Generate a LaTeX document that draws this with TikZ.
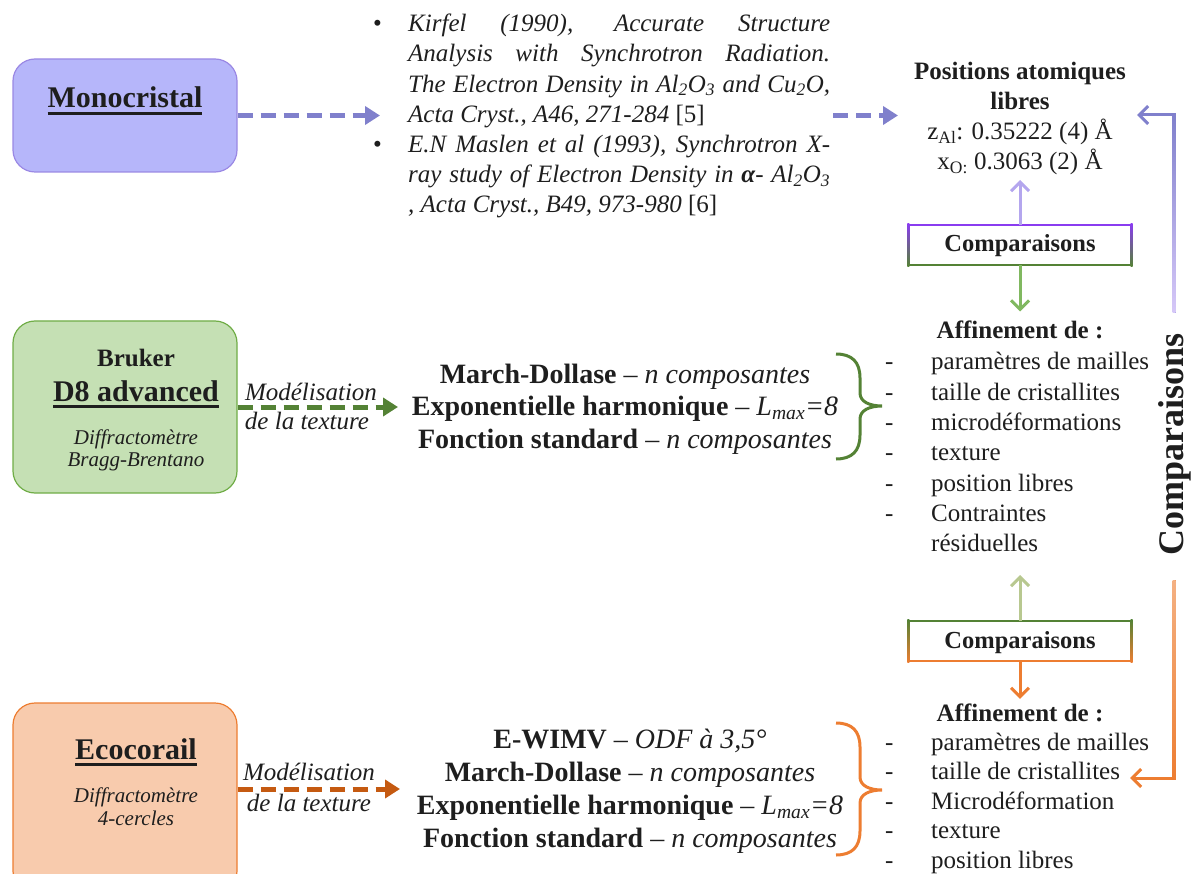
\documentclass[tikz,border=0pt]{standalone}
\usepackage{fontspec}
\setmainfont{Liberation Serif}
\usetikzlibrary{arrows.meta,calc}
\definecolor{ink}{HTML}{1E1E1E}
\definecolor{monofill}{HTML}{B6B6FA}
\definecolor{monoline}{HTML}{9A88E4}
\definecolor{monoarrow}{HTML}{8080CC}
\definecolor{grfill}{HTML}{C5E0B4}
\definecolor{grline}{HTML}{70AD47}
\definecolor{grdark}{HTML}{548235}
\definecolor{orfill}{HTML}{F8CBAD}
\definecolor{orline}{HTML}{ED7D31}
\definecolor{ordark}{HTML}{C55A11}
\definecolor{cpurple}{HTML}{8A3CF0}
\definecolor{lpurple}{HTML}{B4A6EE}
\definecolor{lgreen}{HTML}{80B860}
\definecolor{tgreen}{HTML}{B8C890}
\definecolor{vpurple}{HTML}{A49CDE}
\definecolor{vpurplelight}{HTML}{D6C8F8}
\definecolor{vorange}{HTML}{EF8E4E}
\definecolor{vorangelight}{HTML}{F4B183}
\def\setfs#1#2{\fontsize{#1}{#2}\selectfont}
\def\ulx#1{\setbox0=\hbox{#1}\rlap{\vrule width\wd0 height -3.6pt depth 6.6pt}\box0}
\def\jl#1{\makebox[422pt][s]{#1}}

\begin{document}
\begin{tikzpicture}[x=1pt,y=-1pt,
  every node/.style={text=ink, inner sep=0pt},
  instr/.style={rounded corners=22pt, line width=1.2pt, minimum width=224pt},
  dasharrow/.style={line width=5pt, dash pattern=on 15pt off 8pt, -{Triangle[length=15pt,width=18pt]}},
  solidarrow/.style={line width=3pt, -{Straight Barb[length=9pt,width=18pt,line width=3pt]}},
  compbox/.style={minimum width=223pt, minimum height=40pt, text height=17pt, text depth=3pt, font=\bfseries\setfs{24.5}{28}},
  brc/.style={line width=3pt},
  lbl/.style={anchor=base},
]
\useasboundingbox (0,0) rectangle (1196,874);
\clip (0,0) rectangle (1196,874);

% instrument boxes
\node[instr, fill=monofill, draw=monoline, minimum height=113pt] (mono) at (125,115.5) {};
\node[instr, fill=grfill, draw=grline, minimum height=172pt] (bruker) at (125,407) {};
\node[instr, fill=orfill, draw=orline, minimum height=190pt] (eco) at (125,798) {};

\node[lbl, font=\bfseries\setfs{30}{34}] (monot) at (125,108) {\ulx{Monocristal}};
\node[lbl, font=\bfseries\setfs{25}{30}] (brukt) at (136,366.7) {Bruker};
\node[lbl, font=\bfseries\setfs{30}{34}] (d8t) at (136,401.7) {\ulx{D8 advanced}};
\node[lbl, font=\itshape\setfs{21}{24}] (bbt1) at (136,444) {Diffractomètre};
\node[lbl, font=\itshape\setfs{21}{24}] (bbt2) at (136,466.7) {Bragg-Brentano};
\node[lbl, font=\bfseries\setfs{30}{34}] (ecot) at (136,759) {\ulx{Ecocorail}};
\node[lbl, font=\itshape\setfs{21}{24}] (ecot1) at (136,802.7) {Diffractomètre};
\node[lbl, font=\itshape\setfs{21}{24}] (ecot2) at (136,825) {4-cercles};

% references
\node[anchor=base, font=\setfs{25}{30}] (b1) at (377.5,31.7) {\textbullet};
\node[anchor=base, font=\setfs{25}{30}] (b2) at (377.5,152.5) {\textbullet};
\node[anchor=base west, font=\itshape\setfs{25}{30.2}] (refs) at (408,31.7) {\parbox[t]{422pt}{%
\jl{Kirfel (1990), Accurate Structure}\\
\jl{Analysis with Synchrotron Radiation.}\\
\jl{The Electron Density in Al\textsubscript{2}O\textsubscript{3} and Cu\textsubscript{2}O,}\\
Acta Cryst., A46, 271-284 \textup{[5]}\\
\jl{E.N Maslen et al (1993), Synchrotron X-}\\
\jl{ray study of Electron Density in {\bfseries α}- Al\textsubscript{2}O\textsubscript{3}}\\
, Acta Cryst., B49, 973-980 \textup{[6]}}};

\coordinate (refin) at (380,115.5);
\coordinate (refout) at (833,115.5);
\coordinate (posin) at (898,115.5);
\draw[dasharrow, monoarrow] (mono.east) -- (refin);
\draw[dasharrow, monoarrow] (refout) -- (posin);

% positions
\node[anchor=base, font=\setfs{25}{30.2}] (pos) at (1020,79.3) {\parbox[t]{240pt}{\centering
\textbf{Positions atomiques}\\\textbf{libres}\\
z\textsubscript{Al}: 0.35222 (4) Å\\
x\textsubscript{O:} 0.3063 (2) Å}};

% comparaisons boxes
\node[compbox] (comp1) at (1020,245) {Comparaisons};
\draw[line width=2pt, cpurple] (comp1.north west) -- (comp1.north east);
\draw[line width=2pt, grdark] (comp1.south west) -- (comp1.south east);
\shade[top color=cpurple, bottom color=grdark] ($(comp1.north west)+(-1,-1)$) rectangle ($(comp1.south west)+(1,1)$);
\shade[top color=cpurple, bottom color=grdark] ($(comp1.north east)+(-1,-1)$) rectangle ($(comp1.south east)+(1,1)$);

\node[compbox] (comp2) at (1020,641) {Comparaisons};
\draw[line width=2pt, grdark] (comp2.north west) -- (comp2.north east);
\draw[line width=2pt, orline] (comp2.south west) -- (comp2.south east);
\shade[top color=grdark, bottom color=orline] ($(comp2.north west)+(-1,-1)$) rectangle ($(comp2.south west)+(1,1)$);
\shade[top color=grdark, bottom color=orline] ($(comp2.north east)+(-1,-1)$) rectangle ($(comp2.south east)+(1,1)$);

% affinement 1
\node[lbl, font=\bfseries\setfs{25}{30}] (aff1t) at (1020,338.3) {Affinement de :};
\node[anchor=base west, font=\setfs{25}{30.3}] (aff1l) at (885,370) {\begin{tabular}[t]{@{}p{46pt}@{}l@{}}
-&paramètres de mailles\\
-&taille de cristallites\\
-&microdéformations\\
-&texture\\
-&position libres\\
-&Contraintes\\
&résiduelles
\end{tabular}};

% affinement 2
\node[lbl, font=\bfseries\setfs{25}{30}] (aff2t) at (1020,721.7) {Affinement de :};
\node[anchor=base west, font=\setfs{25}{29.6}] (aff2l) at (885,750) {\begin{tabular}[t]{@{}p{46pt}@{}l@{}}
-&paramètres de mailles\\
-&taille de cristallites\\
-&Microdéformation\\
-&texture\\
-&position libres
\end{tabular}};

\coordinate (posbot) at (1020,180);
\coordinate (aff1bot) at (1020,575);
\coordinate (posr) at (1137,115);
\coordinate (pvb) at (1174,313);
\coordinate (ovt) at (1174,580);
\coordinate (aff2r) at (1130,778);

\draw[solidarrow, lpurple] (comp1.north) -- (posbot);
\draw[solidarrow, lgreen, shorten >=9pt] (comp1.south) -- (aff1t.north);
\draw[solidarrow, tgreen] (comp2.north) -- (aff1bot);
\draw[solidarrow, orline, shorten >=5pt] (comp2.south) -- (aff2t.north);

% side connectors
\draw[solidarrow, monoarrow] (pvb) |- (posr);
\shade[top color=monoarrow, bottom color=vpurplelight] ($(pvb |- posr)+(-1.5,-1.5)$) rectangle ($(pvb)+(1.5,0)$);
\draw[solidarrow, orline] (ovt) |- (aff2r);
\shade[top color=vorangelight, bottom color=orline] ($(ovt)+(-1.5,0)$) rectangle ($(ovt |- aff2r)+(1.5,1.5)$);

\node[rotate=90, font=\bfseries\setfs{36}{40}] (compbig) at (1175,444.5) {Comparaisons};

% modelisation arrows
\coordinate (m1in) at (398,407);
\coordinate (m2in) at (400,789);
\draw[dasharrow, grdark] (bruker.east) -- (m1in);
\draw[dasharrow, ordark] (eco.east |- m2in) -- (m2in);
\node[lbl, font=\itshape\setfs{25}{30}] (mod1a) at (311,400.7) {Modélisation};
\node[lbl, font=\itshape\setfs{25}{30}] (mod1b) at (307,429) {de la texture};
\node[lbl, font=\itshape\setfs{25}{30}] (mod2a) at (309,780.7) {Modélisation};
\node[lbl, font=\itshape\setfs{25}{30}] (mod2b) at (309,811.7) {de la texture};

% methods
\node[anchor=base, font=\setfs{28}{32.5}] (meth1) at (625,383.3) {\begin{tabular}[t]{@{}c@{}}
\textbf{March-Dollase} – \textit{n composantes}\\
\textbf{Exponentielle harmonique} – \textit{L\textsubscript{max}=8}\\
\textbf{Fonction standard} – \textit{n composantes}
\end{tabular}};
\node[anchor=base, font=\setfs{28}{33}] (meth2) at (630,748.3) {\begin{tabular}[t]{@{}c@{}}
\textbf{E-WIMV} – \textit{ODF à 3,5°}\\
\textbf{March-Dollase} – \textit{n composantes}\\
\textbf{Exponentielle harmonique} – \textit{L\textsubscript{max}=8}\\
\textbf{Fonction standard} – \textit{n composantes}
\end{tabular}};

% braces
\draw[brc, grdark] (836,354) .. controls (852,354) and (860,362) .. (860,378) -- (860,393)
  .. controls (860,402) and (870,406) .. (882,406) .. controls (870,406) and (860,410) .. (860,419)
  -- (860,435) .. controls (860,451) and (852,459) .. (836,459);
\draw[brc, orline] (836,723) .. controls (852,723) and (860,731) .. (860,747) -- (860,777)
  .. controls (860,786) and (870,790) .. (882,790) .. controls (870,790) and (860,794) .. (860,803)
  -- (860,831) .. controls (860,847) and (852,855) .. (836,855);
\end{tikzpicture}
\end{document}
